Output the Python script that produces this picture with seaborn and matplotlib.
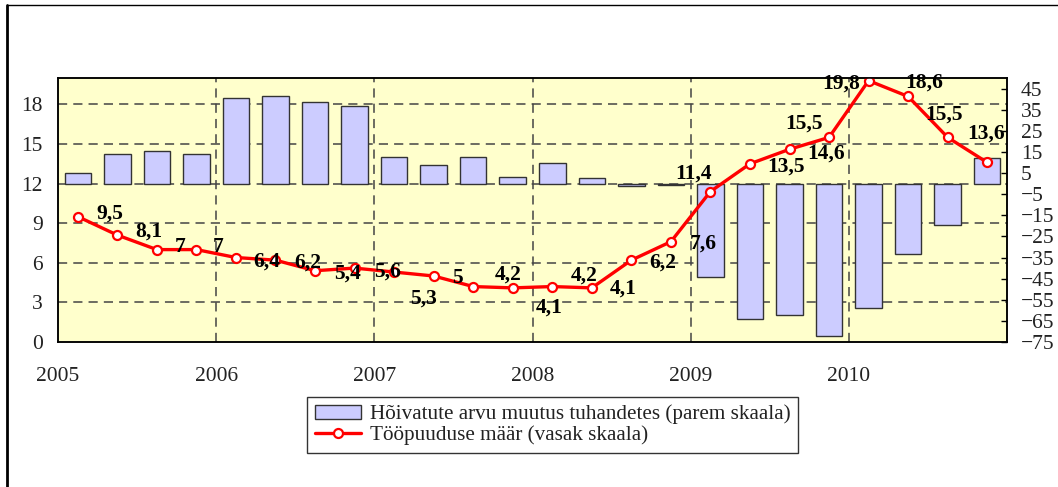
import numpy as np
import pandas as pd
import matplotlib
matplotlib.use("Agg")
import matplotlib.pyplot as plt
from matplotlib.lines import Line2D
from matplotlib.patches import Patch
import seaborn as sns

# --- data ---
years = ["2005", "2006", "2007", "2008", "2009", "2010"]
quarters = [f"{y}Q{q}" for y in years for q in range(1, 5)]

# unemployment rate, %, left scale
unemployment = [9.5, 8.1, 7, 7, 6.4, 6.2, 5.4, 5.6,
                5.3, 5, 4.2, 4.1, 4.2, 4.1, 6.2, 7.6,
                11.4, 13.5, 14.6, 15.5, 19.8, 18.6, 15.5, 13.6]

# change in number of employed, thousands, right scale
employment_change = [5.2, 14.2, 15.2, 14.2, 40.3, 41.3, 38.6, 36.7,
                     12.5, 8.9, 12.5, 3.3, 9.8, 2.7, -1.1, -0.8,
                     -44.1, -64.1, -62.3, -72.3, -58.7, -33.5, -19.8, 12.3]

bar_label = "Hõivatute arvu muutus tuhandetes (parem skaala)"
line_label = "Tööpuuduse määr (vasak skaala)"

# label offsets in pixels (dx, dy up), as placed in the original
label_offsets = [(32, 3), (31, 3), (23, 3), (22, 3), (31, -4), (32, -2),
                 (32, -3), (33, -4), (29, -27), (24, -2), (35, 12), (36, -20),
                 (32, 11), (31, -1), (31, -2), (32, -2), (-17, 18), (36, -3),
                 (37, -4), (-25, 14), (-27, -3), (16, 14), (-4, 23), (-1, 29)]

df = pd.DataFrame({"quarter": quarters,
                   "unemployment": unemployment,
                   "employment": employment_change})

left_lim = (0, 20)
right_lim = (-75, 50)
FS = 15.5

sns.set_theme(style="white")
plt.rcParams["font.family"] = ["Liberation Serif", "DejaVu Serif"]

fig = plt.figure(figsize=(10.58, 4.87), dpi=100)
ax = fig.add_axes([58 / 1058, 1 - 342 / 487, (1007 - 58) / 1058, (342 - 78) / 487])
ax.set_facecolor("#FFFFCC")

# bars (right scale) on the lower axis
sns.barplot(data=df, x="quarter", y="employment", ax=ax, color="#CCCCFF",
            saturation=1, edgecolor="#333333", linewidth=1, width=0.67,
            errorbar=None, zorder=2)

ax2 = ax.twinx()
# line (left scale) on top
sns.pointplot(data=df, x="quarter", y="unemployment", ax=ax2, color="red",
              errorbar=None, markers="o", markersize=6.5,
              markerfacecolor="white", markeredgecolor="red",
              markeredgewidth=1.6, linewidth=2.4)

# scales
ax.set_ylim(*right_lim)
ax2.set_ylim(*left_lim)
left_ticks = [0, 3, 6, 9, 12, 15, 18]
ax2.set_yticks(left_ticks)
ax.set_yticks(list(range(-75, 50, 10)))

# swap sides: bars axis labelled right, line axis labelled left
ax.yaxis.tick_right()
ax2.yaxis.tick_left()

# dashed grid (behind bars), positioned on the left scale
for v in left_ticks[1:]:
    r = right_lim[0] + (v - left_lim[0]) / (left_lim[1] - left_lim[0]) * (right_lim[1] - right_lim[0])
    ax.axhline(r, color="#444444", lw=1.1, ls=(0, (6, 4)), zorder=0.5)

year_edges = [i * 4 - 0.5 for i in range(len(years) + 1)]
for x in year_edges[1:-1]:
    ax.axvline(x, color="#444444", lw=1.1, ls=(0, (6, 4)), zorder=0.5)

ax.set_xlim(-0.5, len(quarters) - 0.5)
ax.set_xticks(year_edges)
ax.set_xticklabels(years + [""])

for a in (ax, ax2):
    a.set_xlabel("")
    a.set_ylabel("")
    for s in a.spines.values():
        s.set_color("black")
        s.set_linewidth(1.1)

ax.tick_params(axis="x", direction="out", length=5, width=1, color="black",
               pad=13, labelsize=FS, labelcolor="#222222")
ax.tick_params(axis="y", direction="in", length=4, width=1, color="black",
               pad=10, labelsize=FS, labelcolor="#222222",
               right=True, left=False)
ax2.tick_params(axis="y", length=0, pad=11, labelsize=FS, labelcolor="#222222")

# data labels
for i, (v, (dx, dy)) in enumerate(zip(unemployment, label_offsets)):
    txt = f"{v:g}".replace(".", ",")
    ax2.annotate(txt, (i, v), xytext=(dx, dy), textcoords="offset pixels",
                 ha="center", va="center", fontsize=FS, fontweight="bold",
                 color="black", zorder=5)

# legend
handles = [Patch(facecolor="#CCCCFF", edgecolor="#333333", linewidth=1),
           Line2D([], [], color="red", lw=2.4, marker="o", markersize=6.5,
                  markerfacecolor="white", markeredgecolor="red", markeredgewidth=1.6)]
leg = fig.legend(handles, [bar_label, line_label], loc="center",
                 bbox_to_anchor=(552.5 / 1058, 1 - 425 / 487),
                 fontsize=15.2, frameon=True, fancybox=False, edgecolor="black",
                 handlelength=2.2, handleheight=0.7, handletextpad=0.4,
                 labelspacing=0.05, borderpad=0.35)
leg.get_frame().set_linewidth(1)
for t in leg.get_texts():
    t.set_color("#222222")

# outer frame lines like the original image
fig.add_artist(Line2D([7 / 1058, 7 / 1058], [0, 1 - 5 / 487], color="black", lw=2,
                      transform=fig.transFigure))
fig.add_artist(Line2D([7 / 1058, 1], [1 - 5 / 487, 1 - 5 / 487], color="black", lw=1,
                      transform=fig.transFigure))

fig.savefig("out.png", dpi=100)
